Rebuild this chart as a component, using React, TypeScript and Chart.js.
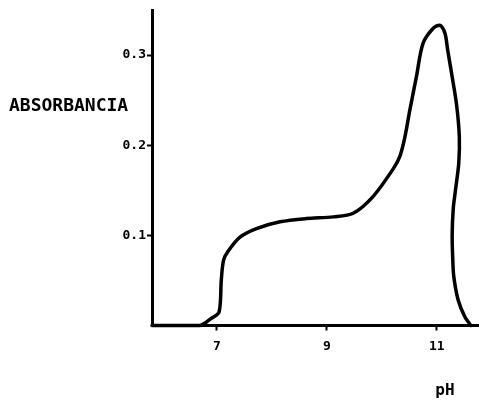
import React, { useEffect, useRef } from "react";
import { Chart, registerables } from "chart.js";

Chart.register(...registerables);

const phValues = [5.82, 6.69, 6.9, 7.04, 7.08, 7.12, 7.2, 7.42, 7.72, 8.15, 8.63, 9.12, 9.48, 9.84, 10.21, 10.33, 10.42, 10.51, 10.63, 10.75, 10.94, 11.06, 11.15, 11.2, 11.28, 11.36, 11.41, 11.4, 11.34, 11.3, 11.28, 11.29, 11.31, 11.39, 11.51, 11.62];
const absorbance = [0, 0, 0.008, 0.015, 0.05, 0.072, 0.082, 0.098, 0.1075, 0.115, 0.1186, 0.1205, 0.1245, 0.143, 0.174, 0.188, 0.209, 0.239, 0.276, 0.313, 0.33, 0.333, 0.324, 0.305, 0.276, 0.245, 0.21, 0.18, 0.15, 0.13, 0.1, 0.075, 0.054, 0.028, 0.0098, 0];
const xTicks = [7, 9, 11];
const yTicks = [0.1, 0.2, 0.3];
const yTitle = "ABSORBANCIA";
const xTitle = "pH";

const FONT = "'DejaVu Sans Mono', 'Liberation Mono', monospace";

export default function App() {
  const ref = useRef<HTMLCanvasElement | null>(null);
  useEffect(() => {
    if (!ref.current) return;
    const titles = {
      id: "titles",
      afterDraw(chart: any) {
        const ctx = chart.ctx;
        ctx.save();
        ctx.fillStyle = "#000";
        ctx.font = `bold 18px ${FONT}`;
        ctx.textAlign = "left";
        ctx.textBaseline = "middle";
        ctx.fillText(yTitle, 9, 106);
        ctx.font = `bold 16px ${FONT}`;
        ctx.textAlign = "center";
        ctx.fillText(xTitle, 445, 391);
        ctx.restore();
      },
    };
    const chart = new Chart(ref.current, {
      type: "scatter",
      data: {
        datasets: [
          {
            data: phValues.map((x, i) => ({ x, y: absorbance[i] })),
            showLine: true,
            borderColor: "#000",
            borderWidth: 3.5,
            pointRadius: 0,
            tension: 0.3,
            borderCapStyle: "round",
            borderJoinStyle: "round",
            clip: false as any,
          },
        ],
      },
      options: {
        animation: false,
        responsive: false,
        devicePixelRatio: 1,
        layout: { padding: { top: 10, right: 1, left: 0, bottom: 0 } },
        plugins: { legend: { display: false }, tooltip: { enabled: false } },
        scales: {
          x: {
            type: "linear",
            min: 5.82,
            max: 11.75,
            afterBuildTicks: (s: any) => {
              s.ticks = xTicks.map((v) => ({ value: v }));
            },
            afterFit: (s: any) => {
              s.height = 75.5;
            },
            border: { display: true, color: "#000", width: 3 },
            grid: { drawOnChartArea: false, drawTicks: true, tickLength: 5, tickWidth: 2, tickColor: "#000" },
            ticks: { color: "#000", font: { family: FONT, size: 13, weight: "bold" }, padding: 8, maxRotation: 0 },
          },
          y: {
            type: "linear",
            min: 0,
            max: 0.35,
            afterBuildTicks: (s: any) => {
              s.ticks = yTicks.map((v) => ({ value: v }));
            },
            afterFit: (s: any) => {
              s.width = 152;
            },
            border: { display: true, color: "#000", width: 3 },
            grid: { drawOnChartArea: false, drawTicks: true, tickLength: 5, tickWidth: 2, tickColor: "#000" },
            ticks: { color: "#000", font: { family: FONT, size: 13, weight: "bold" }, padding: 1, callback: (v: any) => String(v) },
          },
        },
      },
      plugins: [titles],
    });
    return () => chart.destroy();
  }, []);
  return (
    <div style={{ position: "absolute", left: 0, top: 0, width: 479, height: 401, background: "#fff" }}>
      <canvas ref={ref} width={479} height={401} style={{ width: 479, height: 401 }} />
    </div>
  );
}
